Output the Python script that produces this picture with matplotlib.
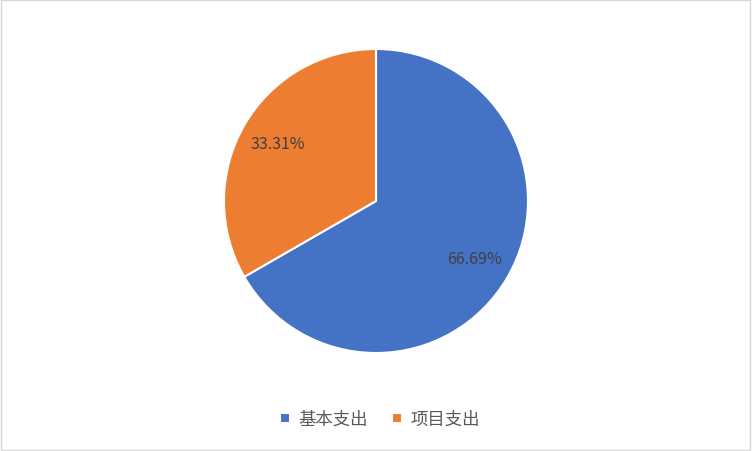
import matplotlib
matplotlib.use("Agg")
import matplotlib.pyplot as plt
from matplotlib.patches import Rectangle

plt.rcParams['font.family'] = ['Noto Sans CJK SC', 'DejaVu Sans']

categories = ['基本支出', '项目支出']
shares = [66.69, 33.31]
colors = ['#4472C4', '#ED7D31']

fig = plt.figure(figsize=(7.52, 4.52), dpi=100)
fig.patches.append(Rectangle((0.001, 0.002), 0.997, 0.995, transform=fig.transFigure,
                             fill=False, edgecolor='#D9D9D9', linewidth=1))

ax = fig.add_axes([224 / 752, (452 - 354) / 452, 304 / 752, 304 / 452])
wedges, texts, autotexts = ax.pie(
    shares, colors=colors, startangle=90, counterclock=False,
    autopct='%.2f%%', pctdistance=0.75,
    wedgeprops=dict(edgecolor='white', linewidth=1.5),
    textprops=dict(color='#404040', fontsize=11.5))
ax.set_xlim(-1, 1)
ax.set_ylim(-1, 1)
ax.set_aspect('equal')

fig.legend(wedges, categories, loc='center', bbox_to_anchor=(380 / 752, 1 - 420 / 452),
           ncol=2, frameon=False, handlelength=0.55, handleheight=0.55,
           handletextpad=0.5, columnspacing=1.4,
           prop=dict(size=12.5), labelcolor='#595959')

fig.savefig('out.png', dpi=100)
